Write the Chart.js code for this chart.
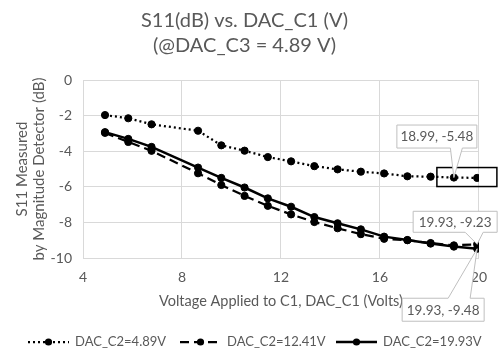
<!DOCTYPE html>
<html>
<head>
<meta charset="utf-8">
<script src="https://cdn.jsdelivr.net/npm/chart.js@4/dist/chart.umd.min.js"></script>
<style>
  html, body { margin: 0; padding: 0; background: #ffffff; }
  #wrap { width: 498px; height: 354px; }
</style>
</head>
<body>
<div id="wrap"><canvas id="chart" width="498" height="354"></canvas></div>
<script>
// DAC_C1 sweep (Volts) shared by all three series
const dacC1 = [4.89, 5.83, 6.77, 8.65, 9.59, 10.53, 11.47, 12.41, 13.35, 14.29, 15.23, 16.17, 17.11, 18.05, 18.99, 19.93];

// S11 measured by the magnitude detector (dB), one array per DAC_C2 setting
const s11C2_489  = [-1.97, -2.15, -2.49, -2.85, -3.67, -3.97, -4.33, -4.57, -4.84, -5.02, -5.15, -5.25, -5.41, -5.43, -5.48, -5.50];
const s11C2_1241 = [-2.97, -3.48, -3.98, -5.24, -5.90, -6.51, -7.07, -7.55, -7.98, -8.33, -8.66, -8.92, -9.00, -9.16, -9.29, -9.23];
const s11C2_1993 = [-2.93, -3.31, -3.76, -4.92, -5.50, -6.04, -6.65, -7.12, -7.70, -8.05, -8.39, -8.80, -8.99, -9.19, -9.36, -9.48];

const seriesNames = ['DAC_C2=4.89V', 'DAC_C2=12.41V', 'DAC_C2=19.93V'];

const xTicks = [4, 8, 12, 16, 20];
const yTicks = [0, -2, -4, -6, -8, -10];

const titleLines = ['S11(dB) vs. DAC_C1 (V)', '(@DAC_C3 = 4.89 V)'];
const xTitle = 'Voltage Applied to C1, DAC_C1 (Volts)';
const yTitle = ['S11 Measured', 'by Magnitude Detector (dB)'];

// Annotated points: [series index, point index]
const calloutPoints = [[0, 14], [1, 15], [2, 15]];

const TEXT = '#595959';
const GRID = '#d9d9d9';
const FONT = 'Lato';

const toXY = ys => ys.map((y, i) => ({ x: dacC1[i], y }));

const seriesStyles = [
  { dash: [2, 3], width: 2.25 },
  { dash: [9, 5], width: 2.25 },
  { dash: [],     width: 2.5 }
];

const datasets = [s11C2_489, s11C2_1241, s11C2_1993].map((ys, k) => ({
  label: seriesNames[k],
  data: toXY(ys),
  borderColor: '#000000',
  backgroundColor: '#000000',
  borderWidth: seriesStyles[k].width,
  borderDash: seriesStyles[k].dash,
  pointRadius: 3.6,
  pointBackgroundColor: '#000000',
  pointBorderColor: '#000000',
  pointBorderWidth: 1,
  tension: 0,
  order: 2 - k
}));

// Legend under the axis title: line sample with a marker, then the series name
const legendPlugin = {
  id: 'lineMarkerLegend',
  afterDraw(chart) {
    const ctx = chart.ctx;
    const y = 342;
    const sampleStarts = [28, 180, 336];
    const sampleW = 41, textGap = 6;
    ctx.save();
    ctx.font = '13px ' + FONT;
    seriesNames.forEach((name, k) => {
      const st = seriesStyles[k];
      const x = sampleStarts[k];
      ctx.strokeStyle = '#000000';
      ctx.lineWidth = st.width;
      ctx.setLineDash(st.dash);
      ctx.beginPath();
      ctx.moveTo(x, y);
      ctx.lineTo(x + sampleW, y);
      ctx.stroke();
      ctx.setLineDash([]);
      ctx.fillStyle = '#000000';
      ctx.beginPath();
      ctx.arc(x + sampleW / 2, y, 3.6, 0, Math.PI * 2);
      ctx.fill();
      ctx.fillStyle = TEXT;
      ctx.textBaseline = 'middle';
      ctx.textAlign = 'left';
      ctx.fillText(name, x + sampleW + textGap, y);
    });
    ctx.restore();
  }
};

// Value callouts with a wedge pointing at the annotated point
const calloutPlugin = {
  id: 'valueCallouts',
  afterDatasetsDraw(chart) {
    const ctx = chart.ctx;
    const xs = chart.scales.x, ys = chart.scales.y;
    const series = [s11C2_489, s11C2_1241, s11C2_1993];
    // box placement relative to the point: left, top, width, height, wedge side and base span
    const layouts = [
      { l: -57, t: -52.5, w: 80, h: 23, side: 'bottom', b1: -3.5, b2: 8.5 },
      { l: -64, t: -33,   w: 84, h: 21, side: 'bottom', b1: -12,  b2: 6 },
      { l: -75, t: 49.5,  w: 82, h: 23, side: 'top',    b1: -29,  b2: -7 }
    ];
    ctx.save();
    // frame around the flat tail of the 4.89 V series
    {
      const [s, i] = calloutPoints[0];
      const px = xs.getPixelForValue(dacC1[i]);
      const py = ys.getPixelForValue(series[s][i]);
      ctx.strokeStyle = '#000000';
      ctx.lineWidth = 1.5;
      ctx.strokeRect(px - 17, py - 10, 60, 19);
    }
    calloutPoints.forEach(([s, i], k) => {
      const vx = dacC1[i], vy = series[s][i];
      const px = xs.getPixelForValue(vx);
      const py = ys.getPixelForValue(vy);
      const L = layouts[k];
      const l = px + L.l, t = py + L.t, r = l + L.w, b = t + L.h;
      ctx.beginPath();
      if (L.side === 'bottom') {
        ctx.moveTo(l, t); ctx.lineTo(r, t); ctx.lineTo(r, b);
        ctx.lineTo(px + L.b2, b); ctx.lineTo(px, py); ctx.lineTo(px + L.b1, b);
        ctx.lineTo(l, b); ctx.closePath();
      } else {
        ctx.moveTo(l, t); ctx.lineTo(px + L.b1, t); ctx.lineTo(px, py); ctx.lineTo(px + L.b2, t);
        ctx.lineTo(r, t); ctx.lineTo(r, b); ctx.lineTo(l, b); ctx.closePath();
      }
      ctx.fillStyle = '#ffffff';
      ctx.fill();
      ctx.strokeStyle = '#bfbfbf';
      ctx.lineWidth = 1;
      ctx.stroke();
      ctx.fillStyle = TEXT;
      ctx.font = '13.5px ' + FONT;
      ctx.textAlign = 'center';
      ctx.textBaseline = 'middle';
      ctx.fillText(vx.toFixed(2) + ', ' + vy.toFixed(2), (l + r) / 2, (t + b) / 2 + 0.5);
    });
    ctx.restore();
  }
};

new Chart(document.getElementById('chart'), {
  type: 'line',
  data: { datasets },
  options: {
    responsive: false,
    devicePixelRatio: 1,
    animation: false,
    layout: { padding: { left: 0, right: 9, top: 0, bottom: 44 } },
    plugins: {
      legend: { display: false },
      tooltip: { enabled: false },
      title: {
        display: true,
        text: titleLines,
        color: TEXT,
        font: { family: FONT, size: 20, weight: 'normal', lineHeight: 1.25 },
        padding: { top: 8, bottom: 22 }
      }
    },
    scales: {
      x: {
        type: 'linear',
        min: xTicks[0],
        max: xTicks[xTicks.length - 1],
        afterBuildTicks: sc => { sc.ticks = xTicks.map(v => ({ value: v })); },
        afterFit: sc => { sc.height = 52; },
        grid: { color: GRID, lineWidth: 1, drawTicks: false },
        border: { color: GRID, width: 1 },
        ticks: { color: TEXT, font: { family: FONT, size: 14 }, padding: 11, maxRotation: 0 },
        title: { display: true, text: xTitle, color: TEXT, font: { family: FONT, size: 14.5 }, padding: { top: 6, bottom: 0 } }
      },
      y: {
        type: 'linear',
        min: yTicks[yTicks.length - 1],
        max: yTicks[0],
        afterBuildTicks: sc => { sc.ticks = yTicks.slice().reverse().map(v => ({ value: v })); },
        afterFit: sc => { sc.width = 83; },
        grid: { color: GRID, lineWidth: 1, drawTicks: false },
        border: { color: GRID, width: 1 },
        ticks: { color: TEXT, font: { family: FONT, size: 14 }, padding: 11 },
        title: { display: true, text: yTitle, color: TEXT, font: { family: FONT, size: 15, lineHeight: 1.12 }, padding: { top: 13.5, bottom: 0 } }
      }
    }
  },
  plugins: [calloutPlugin, legendPlugin]
});
</script>
</body>
</html>
